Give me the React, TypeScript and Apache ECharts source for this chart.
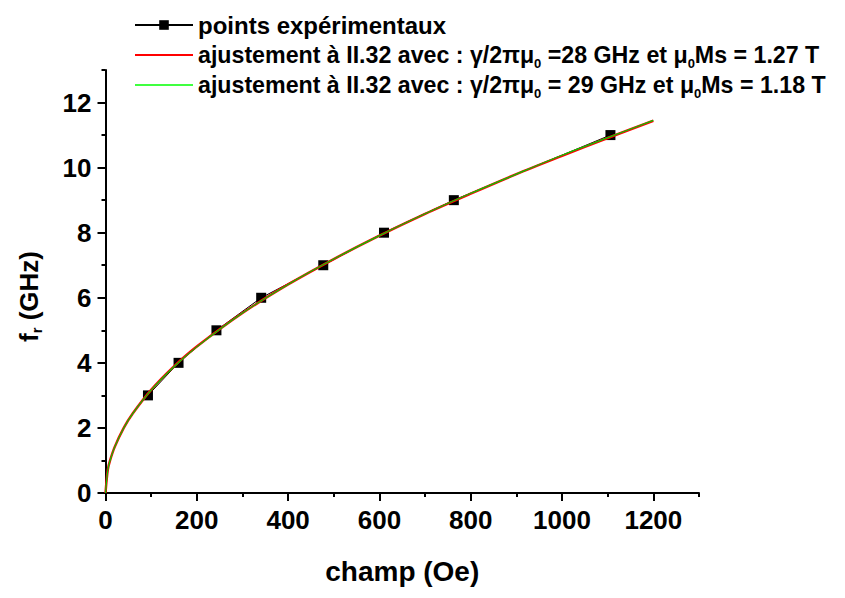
import React, { useEffect, useRef } from "react";
import * as echarts from "echarts";

// Experimental points (field in Oe, resonance frequency in GHz)
const pointsField = [93, 160, 243, 341, 477, 610, 763, 1106];
const pointsFreq = [3, 4, 5, 6, 7, 8, 9, 11];

// Fit curves
const fitField = [0, 5, 10, 20, 40, 60, 100, 150, 200, 300, 400, 500, 600, 700, 800, 900, 1000, 1100, 1200];
const fitRed = [0, 0.71, 1.0, 1.41, 2.0, 2.45, 3.17, 3.89, 4.5, 5.53, 6.41, 7.19, 7.91, 8.58, 9.2, 9.8, 10.36, 10.91, 11.44];
const fitGreen = [0, 0.7, 1.0, 1.41, 2.0, 2.45, 3.16, 3.88, 4.49, 5.53, 6.41, 7.19, 7.91, 8.58, 9.21, 9.8, 10.38, 10.92, 11.45];

// Tick labels
const xTickLabels = [0, 200, 400, 600, 800, 1000, 1200];
const yTickLabels = [0, 2, 4, 6, 8, 10, 12];

const legendTexts: Record<string, string> = {
  points: "{m1|points expérimentaux}",
  fit28: "{m|ajustement à II.32 avec : γ/2πμ}{sub|0}{m| =28 GHz et μ}{sub|0}{m|Ms = 1.27 T}",
  fit29: "{m|ajustement à II.32 avec : γ/2πμ}{sub|0}{m| = 29 GHz et μ}{sub|0}{m|Ms = 1.18 T}",
};

const FONT = "'Liberation Sans', Arial, Helvetica, sans-serif";

export default function App() {
  const ref = useRef<HTMLDivElement>(null);
  useEffect(() => {
    if (!ref.current) return;
    const chart = echarts.init(ref.current, null, { renderer: "svg" });
    const zip = (xs: number[], ys: number[]) => xs.map((x, i) => [x, ys[i]]);
    const axisLineStyle = { color: "#000", width: 2 };
    const hiddenSymbol = { color: "rgba(0,0,0,0)", borderWidth: 0, opacity: 0 };
    const txt = { fontFamily: FONT, fontWeight: "bold", color: "#000" };
    chart.setOption({
      animation: false,
      backgroundColor: "#fff",
      textStyle: { fontFamily: FONT },
      grid: { left: 96, right: 138, top: 62, bottom: 83, containLabel: false },
      legend: {
        orient: "vertical",
        left: 121,
        top: -3,
        itemWidth: 58,
        itemHeight: 12,
        itemGap: 0,
        itemTextGap: 4,
        data: [
          { name: "points" },
          { name: "fit28", itemStyle: hiddenSymbol, lineStyle: { color: "#ff0000", width: 2 } },
          { name: "fit29", itemStyle: hiddenSymbol, lineStyle: { color: "#00ff00", width: 1.5 } },
        ],
        formatter: (name: string) => legendTexts[name],
        textStyle: {
          ...txt,
          fontSize: 23,
          lineHeight: 30,
          rich: {
            m1: { ...txt, fontSize: 24, lineHeight: 30 },
            m: { ...txt, fontSize: 23.2, lineHeight: 30 },
            sub: { ...txt, fontSize: 13, padding: [17, 0, 0, 0] },
          },
        },
      },
      xAxis: [
        {
          type: "value",
          min: 0,
          max: 1300,
          interval: 100,
          name: "champ (Oe)",
          nameLocation: "middle",
          nameGap: 64,
          nameTextStyle: { ...txt, fontSize: 28 },
          axisLine: { show: true, lineStyle: axisLineStyle },
          axisTick: { show: true, length: 4, lineStyle: axisLineStyle },
          axisLabel: {
            ...txt,
            customValues: xTickLabels,
            formatter: (v: number) => String(v),
            fontSize: 26,
            margin: 14,
          },
          splitLine: { show: false },
        },
        {
          type: "value",
          min: 0,
          max: 1300,
          position: "bottom",
          axisLine: { show: false },
          axisTick: { show: true, length: 8, customValues: xTickLabels, lineStyle: axisLineStyle },
          axisLabel: { show: false },
          splitLine: { show: false },
        },
      ],
      yAxis: [
        {
          type: "value",
          min: 0,
          max: 13,
          interval: 1,
          name: "f{sub|r} (GHz)",
          nameLocation: "middle",
          nameRotate: 90,
          nameGap: 62,
          nameTextStyle: {
            ...txt,
            fontSize: 26,
            padding: [0, 30, 0, 0],
            rich: {
              sub: { ...txt, fontSize: 15, padding: [14, 0, 0, 0] },
            },
          },
          axisLine: { show: true, lineStyle: axisLineStyle },
          axisTick: { show: true, length: 4, lineStyle: axisLineStyle },
          axisLabel: {
            ...txt,
            customValues: yTickLabels,
            formatter: (v: number) => String(v),
            fontSize: 26,
            margin: 14,
          },
          splitLine: { show: false },
        },
        {
          type: "value",
          min: 0,
          max: 13,
          position: "left",
          axisLine: { show: false },
          axisTick: { show: true, length: 8, customValues: yTickLabels, lineStyle: axisLineStyle },
          axisLabel: { show: false },
          splitLine: { show: false },
        },
      ],
      series: [
        {
          name: "points",
          type: "line",
          xAxisIndex: 0,
          yAxisIndex: 0,
          data: zip(pointsField, pointsFreq),
          symbol: "rect",
          symbolSize: 10,
          itemStyle: { color: "#000" },
          lineStyle: { color: "#000", width: 1 },
          z: 2,
        },
        {
          name: "fit28",
          type: "line",
          xAxisIndex: 0,
          yAxisIndex: 0,
          data: zip(fitField, fitRed),
          smooth: 0.3,
          showSymbol: false,
          symbol: "none",
          itemStyle: { color: "#ff0000" },
          lineStyle: { color: "#ff0000", width: 2.5 },
          z: 3,
        },
        {
          name: "fit29",
          type: "line",
          xAxisIndex: 0,
          yAxisIndex: 0,
          data: zip(fitField, fitGreen),
          smooth: 0.3,
          showSymbol: false,
          symbol: "none",
          itemStyle: { color: "#00ff00" },
          lineStyle: { color: "#00cc00", width: 1.2 },
          z: 4,
        },
      ],
    });
    return () => chart.dispose();
  }, []);
  return <div ref={ref} style={{ width: 829, height: 582 }} />;
}
